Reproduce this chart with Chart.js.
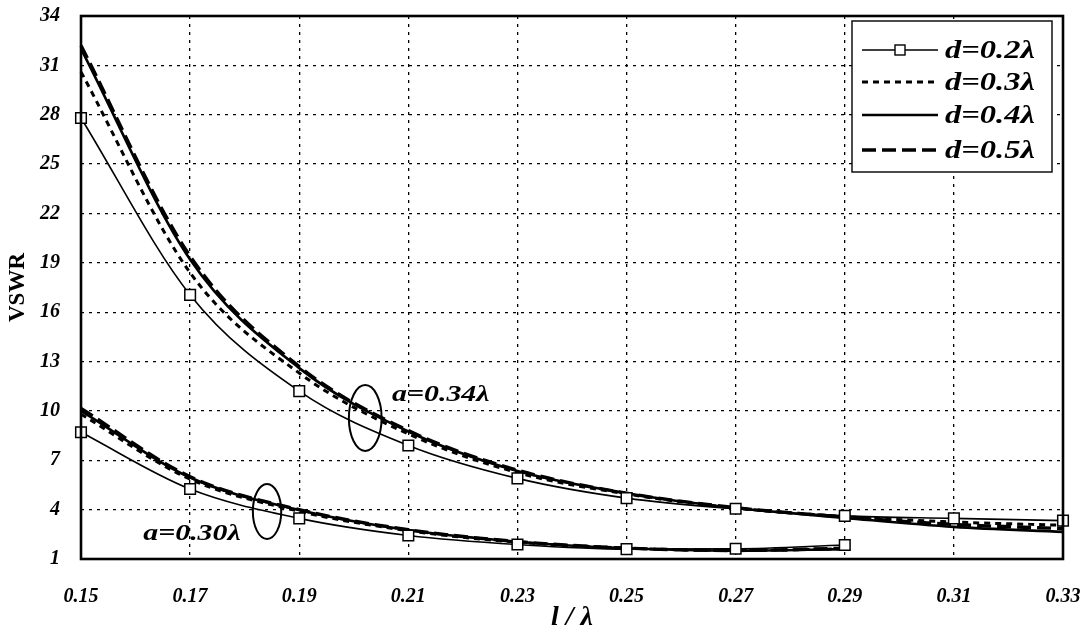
<!DOCTYPE html>
<html>
<head>
<meta charset="utf-8">
<script src="https://cdn.jsdelivr.net/npm/chart.js@4/dist/chart.umd.min.js"></script>
<style>
  html, body { margin: 0; padding: 0; background: #fff; }
  #wrap { width: 1082px; height: 632px; position: relative; }
</style>
</head>
<body>
<div id="wrap"><canvas id="vswr"></canvas></div>
<script>
// ── data ─────────────────────────────────────────────────────
const xLong  = [0.15, 0.17, 0.19, 0.21, 0.23, 0.25, 0.27, 0.29, 0.31, 0.33];
const xShort = [0.15, 0.17, 0.19, 0.21, 0.23, 0.25, 0.27, 0.29];
const xTicks = [0.15, 0.17, 0.19, 0.21, 0.23, 0.25, 0.27, 0.29, 0.31, 0.33];
const yTicks = [1, 4, 7, 10, 13, 16, 19, 22, 25, 28, 31, 34];

// a = 0.34 lambda
const a34_d02 = [27.8, 17.05, 11.2, 7.9, 5.9, 4.7, 4.05, 3.62, 3.47, 3.33];
const a34_d03 = [30.6, 18.4, 12.3, 8.6, 6.25, 4.95, 4.1, 3.58, 3.25, 3.05];
const a34_d04 = [32.0, 19.2, 12.6, 8.75, 6.35, 5.0, 4.1, 3.5, 2.95, 2.65];
const a34_d05 = [32.2, 19.4, 12.7, 8.8, 6.4, 5.0, 4.12, 3.55, 3.1, 2.85];

// a = 0.30 lambda
const a30_d02 = [8.7, 5.25, 3.47, 2.43, 1.88, 1.6, 1.62, 1.85];
const a30_d03 = [9.8, 5.85, 3.9, 2.72, 2.02, 1.66, 1.52, 1.62];
const a30_d04 = [10.0, 5.95, 3.98, 2.76, 2.05, 1.65, 1.5, 1.6];
const a30_d05 = [10.15, 6.0, 4.0, 2.78, 2.06, 1.66, 1.52, 1.65];

const legendLabels = ['d=0.2λ', 'd=0.3λ', 'd=0.4λ', 'd=0.5λ'];

// group labels + ellipses, in data units (l/λ, VSWR)
const groupNotes = [
    { text: 'a=0.34λ', tx: 0.207, ty: 10.95, ex: 0.2021, ey: 9.57, rx: 0.0030, ry: 2.0 },
    { text: 'a=0.30λ', tx: 0.1614, ty: 2.52, ex: 0.1841, ey: 3.89, rx: 0.0026, ry: 1.67 }
];

// ── styles ───────────────────────────────────────────────────
const SERIF = '"Liberation Serif", "DejaVu Serif", serif';
const STYLE = {
    d02: { borderWidth: 1.6, borderDash: [],      pointRadius: 7.5, pointStyle: 'rect' },
    d03: { borderWidth: 3,   borderDash: [6, 5],  pointRadius: 0 },
    d04: { borderWidth: 2.6, borderDash: [],      pointRadius: 0 },
    d05: { borderWidth: 3.4, borderDash: [14, 6], pointRadius: 0 }
};

const pts = (xs, ys) => ys.map((y, i) => ({ x: xs[i], y }));

function series(label, xs, ys, st) {
    return {
        label,
        data: pts(xs, ys),
        borderColor: '#000',
        backgroundColor: '#fff',
        pointBackgroundColor: '#fff',
        pointBorderColor: '#000',
        pointBorderWidth: 1.5,
        pointHoverRadius: st.pointRadius,
        cubicInterpolationMode: 'monotone',
        fill: false,
        clip: false,
        ...st
    };
}

// stretched text helper (the scan is wider than it is tall)
function wideText(ctx, str, x, y, sx) {
    ctx.save();
    ctx.translate(x, y);
    ctx.scale(sx, 1);
    ctx.fillText(str, 0, 0);
    ctx.restore();
}

// fixed axis box sizes, no extra label padding around the plot
const fixBox = size => s => {
    if (s.isHorizontal()) s.height = size; else s.width = size;
    s.paddingLeft = s.paddingRight = s.paddingTop = s.paddingBottom = 0;
};

const framePlugin = {
    id: 'frame',
    afterDatasetsDraw(chart) {
        const { ctx, chartArea: a, scales: { x, y } } = chart;
        ctx.save();

        // group ellipses + labels
        ctx.strokeStyle = '#000';
        ctx.fillStyle = '#000';
        ctx.lineWidth = 2;
        ctx.font = `italic bold 23px ${SERIF}`;
        ctx.textBaseline = 'middle';
        groupNotes.forEach(n => {
            const cx = x.getPixelForValue(n.ex), cy = y.getPixelForValue(n.ey);
            const rx = x.getPixelForValue(n.ex + n.rx) - cx;
            const ry = cy - y.getPixelForValue(n.ey + n.ry);
            ctx.beginPath();
            ctx.ellipse(cx, cy, rx, ry, 0, 0, Math.PI * 2);
            ctx.stroke();
            wideText(ctx, n.text, x.getPixelForValue(n.tx), y.getPixelForValue(n.ty), 1.3);
        });

        // plot frame
        ctx.lineWidth = 2.6;
        ctx.strokeRect(a.left, a.top, a.right - a.left, a.bottom - a.top);

        // legend box (top right, inside the plot)
        const bx = a.right - 211, by = a.top + 5, bw = 200, bh = 151;
        ctx.fillStyle = '#fff';
        ctx.fillRect(bx, by, bw, bh);
        ctx.lineWidth = 1.4;
        ctx.strokeRect(bx, by, bw, bh);

        ctx.font = `italic bold 26px ${SERIF}`;
        ctx.textBaseline = 'middle';
        const rowY = [29, 61, 94, 129];
        chart.data.datasets.slice(0, 4).forEach((ds, i) => {
            const ly = by + rowY[i];
            ctx.strokeStyle = '#000';
            ctx.lineWidth = ds.borderWidth;
            ctx.setLineDash(ds.borderDash);
            ctx.beginPath();
            ctx.moveTo(bx + 10, ly);
            ctx.lineTo(bx + 86, ly);
            ctx.stroke();
            ctx.setLineDash([]);
            if (ds.pointRadius > 0) {
                ctx.fillStyle = '#fff';
                ctx.lineWidth = 1.4;
                ctx.fillRect(bx + 43, ly - 5, 10, 10);
                ctx.strokeRect(bx + 43, ly - 5, 10, 10);
            }
            ctx.fillStyle = '#000';
            wideText(ctx, legendLabels[i], bx + 93, ly + 1, 1.25);
        });
        ctx.restore();
    }
};

new Chart(document.getElementById('vswr'), {
    type: 'line',
    data: {
        datasets: [
            series(legendLabels[0], xLong, a34_d02, STYLE.d02),
            series(legendLabels[1], xLong, a34_d03, STYLE.d03),
            series(legendLabels[2], xLong, a34_d04, STYLE.d04),
            series(legendLabels[3], xLong, a34_d05, STYLE.d05),
            series(legendLabels[0], xShort, a30_d02, STYLE.d02),
            series(legendLabels[1], xShort, a30_d03, STYLE.d03),
            series(legendLabels[2], xShort, a30_d04, STYLE.d04),
            series(legendLabels[3], xShort, a30_d05, STYLE.d05)
        ]
    },
    options: {
        responsive: true,
        maintainAspectRatio: false,
        animation: false,
        layout: { padding: { left: 0, right: 19, top: 16, bottom: 0 } },
        plugins: {
            legend: { display: false },
            tooltip: { enabled: false }
        },
        scales: {
            x: {
                type: 'linear',
                min: 0.15,
                max: 0.33,
                afterBuildTicks: s => { s.ticks = xTicks.map(v => ({ value: v })); },
                afterFit: fixBox(73),
                ticks: {
                    color: '#000',
                    padding: 26,
                    maxRotation: 0,
                    autoSkip: false,
                    font: { family: SERIF, size: 20, style: 'italic', weight: 'bold' },
                    callback: v => v.toFixed(2)
                },
                grid: { color: '#000', lineWidth: 1.3, drawTicks: false },
                border: { display: false, dash: [3, 5] },
                title: {
                    display: true,
                    text: 'l / λ',
                    color: '#000',
                    padding: 0,
                    font: { family: SERIF, size: 28, style: 'italic', weight: 'bold', lineHeight: 1 }
                }
            },
            y: {
                type: 'linear',
                min: 1,
                max: 34,
                afterBuildTicks: s => { s.ticks = yTicks.map(v => ({ value: v })); },
                afterFit: fixBox(81),
                ticks: {
                    color: '#000',
                    padding: 21,
                    autoSkip: false,
                    font: { family: SERIF, size: 20, style: 'italic', weight: 'bold' }
                },
                grid: { color: '#000', lineWidth: 1.3, drawTicks: false },
                border: { display: false, dash: [3, 5] },
                title: {
                    display: true,
                    text: 'VSWR',
                    color: '#000',
                    padding: { top: 4, bottom: 0 },
                    font: { family: SERIF, size: 23, weight: 'bold' }
                }
            }
        }
    },
    plugins: [framePlugin]
});
</script>
</body>
</html>
